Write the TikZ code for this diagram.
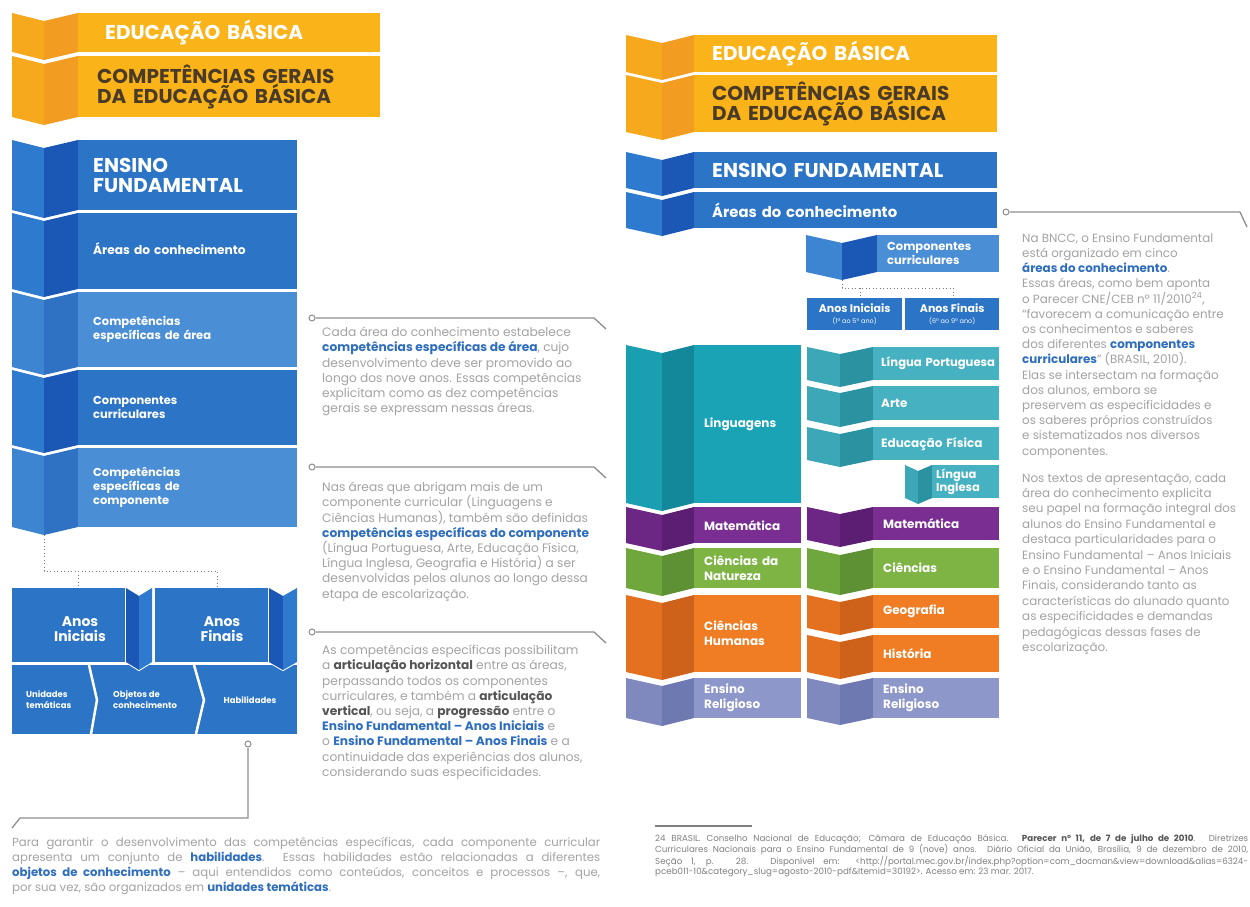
\documentclass[tikz,border=0pt]{standalone}
\usepackage{fontspec}
\setmainfont{Poppins}
\usetikzlibrary{calc}
\definecolor{ylwL}{HTML}{F7A91E}
\definecolor{ylwF}{HTML}{F29D21}
\definecolor{ylwM}{HTML}{FAB41A}
\definecolor{brn}{HTML}{4A3A28}
\definecolor{bluM}{HTML}{2C74C6}
\definecolor{bluF}{HTML}{1B57B4}
\definecolor{bluL}{HTML}{2D7ACE}
\definecolor{lbM}{HTML}{4A8ED6}
\definecolor{lbF}{HTML}{2F72C3}
\definecolor{lbL}{HTML}{3D85D0}
\definecolor{tealM}{HTML}{19A3B5}
\definecolor{tealF}{HTML}{12889A}
\definecolor{tealL}{HTML}{1A9FB1}
\definecolor{lteaM}{HTML}{45B1C1}
\definecolor{lteaF}{HTML}{2B92A2}
\definecolor{lteaL}{HTML}{3BA7B7}
\definecolor{purM}{HTML}{7A2E92}
\definecolor{purF}{HTML}{5B1E73}
\definecolor{purL}{HTML}{6C2785}
\definecolor{grnM}{HTML}{7DB443}
\definecolor{grnF}{HTML}{5E9034}
\definecolor{grnL}{HTML}{70A73C}
\definecolor{orgM}{HTML}{F07D23}
\definecolor{orgF}{HTML}{CF621A}
\definecolor{orgL}{HTML}{E4711F}
\definecolor{lavM}{HTML}{8D97C9}
\definecolor{lavF}{HTML}{6E78B1}
\definecolor{lavL}{HTML}{7F89BE}
\definecolor{gtx}{HTML}{A3A3A3}
\definecolor{bltx}{HTML}{2F6EBF}
\definecolor{dktx}{HTML}{555555}
\definecolor{cline}{HTML}{8E8E8E}
\definecolor{dotgray}{HTML}{777777}
\newcommand\bb[1]{\textbf{\color{bltx}#1}}
\newcommand\bd[1]{\textbf{\color{dktx}#1}}
% left fold: x0 xf xm ytop ybot colL colF depth
\newcommand\foldL[8]{%
 \fill[#6] (#1,#4) -- (#2,#4+#8) -- (#2,#5+#8) -- (#1,#5) -- cycle;
 \fill[#7] (#2,#4+#8) -- (#3,#4) -- (#3,#5) -- (#2,#5+#8) -- cycle;}
% right fold: xm xf x1 ytop ybot colF colL depth
\newcommand\foldR[8]{%
 \filldraw[white, line width=2pt] (#1,#4) -- (#2,#4+#8) -- (#3,#4) -- (#3,#5) -- (#2,#5+#8) -- (#1,#5) -- cycle;
 \fill[#6] (#1,#4) -- (#2,#4+#8) -- (#2,#5+#8) -- (#1,#5) -- cycle;
 \fill[#7] (#2,#4+#8) -- (#3,#4) -- (#3,#5) -- (#2,#5+#8) -- cycle;}
% box: name x y w h pad fill font text
\newcommand\bx[9]{\pgfmathsetmacro\tw{#4-2*#6}%
 \node[band, fill=#7, minimum height=#5pt, text width=\tw pt, inner xsep=#6pt, font=#8] (#1) at (#2,#3) {#9};}
\newcommand\fH{\fontsize{20}{20.5}\selectfont\bfseries}
\newcommand\fA{\fontsize{12.2}{15}\selectfont\bfseries}
\newcommand\fS{\fontsize{11.5}{14}\selectfont\bfseries}
\newcommand\fR{\fontsize{12}{15}\selectfont\bfseries}
\newcommand\fT{\fontsize{8.5}{11}\selectfont\bfseries}
\tikzset{
 band/.style={anchor=north west, inner ysep=0pt, text=white, align=left},
 circ/.style={circle, draw=cline, line width=1pt, fill=white, inner sep=0pt, minimum size=6pt},
 cl/.style={draw=cline, line width=1.3pt},
 dotc/.style={draw=dotgray, line width=1pt, dash pattern=on 1pt off 2.5pt},
 para/.style={anchor=north west, inner sep=0pt, align=left, text=gtx, font=\fontsize{12.2}{15.2}\selectfont},
 lab/.style={text=white, inner sep=0pt, align=center},
}
\begin{document}
\begin{tikzpicture}[x=1pt,y=-1pt]
\fill[white] (0,0) rectangle (1250,907);
\useasboundingbox (0,0) rectangle (1250,907);

% ================= LEFT COLUMN =================
\foldL{12}{44}{78}{13}{52}{ylwL}{ylwF}{8}
\foldL{12}{44}{78}{56}{117}{ylwL}{ylwF}{8}
\bx{lEB}{78}{13}{302}{39}{27}{ylwM}{\fH}{EDUCAÇÃO BÁSICA}
\bx{lCG}{78}{56}{302}{61}{19}{ylwM}{\fH}{\color{brn}COMPETÊNCIAS GERAIS\\\color{brn}DA EDUCAÇÃO BÁSICA}

\foldL{12}{44}{78}{140}{210}{bluL}{bluF}{8}
\foldL{12}{44}{78}{213}{289}{bluL}{bluF}{8}
\foldL{12}{44}{78}{292}{367}{lbL}{lbF}{8}
\foldL{12}{44}{78}{370}{445}{bluL}{bluF}{8}
\foldL{12}{44}{78}{448}{527}{lbL}{lbF}{8}
\bx{lEF}{78}{140}{219}{70}{15}{bluM}{\fH}{ENSINO\\FUNDAMENTAL}
\bx{lAC}{78}{213}{219}{70}{15}{bluM}{\fA}{Áreas do conhecimento}
\bx{lCA}{78}{292}{219}{75}{15}{lbM}{\fS}{Competências\\específicas de área}
\bx{lCC}{78}{370}{219}{75}{15}{bluM}{\fS}{Componentes\\curriculares}
\bx{lCE}{78}{448}{219}{79}{15}{lbM}{\fS}{Competências\\específicas de\\componente}
\fill[bluM] (78,283) rectangle (297,289);

% dotted connector
\coordinate (ld0) at (44,535);
\coordinate (ldL) at (78,571);
\coordinate (ldR) at (217,571);
\coordinate (ldLb) at (78,588);
\coordinate (ldRb) at (217,588);
\draw[dotc] (ld0) |- (ldR) -- (ldRb);
\draw[dotc] (ldL) -- (ldLb);

% bottom row
\fill[bluM] (12,665) rectangle (297,734);
\draw[white, line width=2.5pt] (89,665) -- (97,700) -- (91,734);
\draw[white, line width=2.5pt] (194,665) -- (204,700) -- (196,734);
\node[lab, anchor=west, align=left, font=\fT] (lUT) at (26,700) {Unidades\\temáticas};
\node[lab, anchor=west, align=left, font=\fT] (lOC) at (113,700) {Objetos de\\conhecimento};
\node[lab, font=\fT] (lHB) at (250,700) {Habilidades};

% Anos boxes
\fill[bluM] (12,588) rectangle (126,662);
\foldR{126}{139}{152}{588}{662}{bluF}{bluL}{8}
\fill[bluM] (155,588) rectangle (269,662);
\foldR{269}{283}{297}{588}{662}{bluF}{bluL}{8}
\node[lab, font=\fontsize{14}{15}\selectfont\bfseries] (lAI) at (80,629) {Anos\\Iniciais};
\node[lab, font=\fontsize{14}{15}\selectfont\bfseries] (lAF) at (222,629) {Anos\\Finais};

% callouts left
\node[circ] (c1) at (312,318) {};
\coordinate (c1a) at (594,318); \coordinate (c1b) at (606,329);
\draw[cl] (c1) -- (c1a) -- (c1b);
\node[circ] (c2) at (312,467) {};
\coordinate (c2a) at (594,467); \coordinate (c2b) at (606,478);
\draw[cl] (c2) -- (c2a) -- (c2b);
\node[circ] (c3) at (312,632) {};
\coordinate (c3a) at (594,632); \coordinate (c3b) at (606,643);
\draw[cl] (c3) -- (c3a) -- (c3b);
\node[circ] (c4) at (248,744) {};
\coordinate (c4a) at (248,818); \coordinate (c4b) at (20,818); \coordinate (c4c) at (12,828);
\draw[cl] (c4) -- (c4a) -- (c4b) -- (c4c);

\node[para] (p1) at (322,327) {Cada área do conhecimento estabelece\\
\bb{competências específicas de área}, cujo\\
desenvolvimento deve ser promovido ao\\
longo dos nove anos. Essas competências\\
explicitam como as dez competências\\
gerais se expressam nessas áreas.};

\node[para] (p2) at (322,482) {Nas áreas que abrigam mais de um\\
componente curricular (Linguagens e\\
Ciências Humanas), também são definidas\\
\bb{competências específicas do componente}\\
(Língua Portuguesa, Arte, Educação Física,\\
Língua Inglesa, Geografia e História) a ser\\
desenvolvidas pelos alunos ao longo dessa\\
etapa de escolarização.};

\node[para] (p3) at (322,645) {As competências específicas possibilitam\\
a \bd{articulação horizontal} entre as áreas,\\
perpassando todos os componentes\\
curriculares, e também a \bd{articulação}\\
\bd{vertical}, ou seja, a \bd{progressão} entre o\\
\bb{Ensino Fundamental – Anos Iniciais} e\\
o \bb{Ensino Fundamental – Anos Finais} e a\\
continuidade das experiências dos alunos,\\
considerando suas especificidades.};

\node[para, font=\fontsize{11.7}{15}\selectfont] (p4) at (12,837) {\makebox[588pt][s]{Para garantir o desenvolvimento das competências específicas, cada componente curricular}\\
\makebox[588pt][s]{apresenta um conjunto de \bb{habilidades}. Essas habilidades estão relacionadas a diferentes}\\
\makebox[588pt][s]{\bb{objetos de conhecimento} – aqui entendidos como conteúdos, conceitos e processos –, que,}\\
por sua vez, são organizados em \bb{unidades temáticas}.};

% ================= RIGHT COLUMN =================
\foldL{626}{662}{694}{35}{72}{ylwL}{ylwF}{8}
\foldL{626}{662}{694}{75}{132}{ylwL}{ylwF}{8}
\bx{rEB}{694}{35}{303}{37}{18}{ylwM}{\fH}{EDUCAÇÃO BÁSICA}
\bx{rCG}{694}{75}{303}{57}{18}{ylwM}{\fontsize{20}{19}\selectfont\bfseries}{\color{brn}COMPETÊNCIAS GERAIS\\\color{brn}DA EDUCAÇÃO BÁSICA}
\foldL{626}{662}{694}{152}{188}{bluL}{bluF}{8}
\foldL{626}{662}{694}{192}{228}{bluL}{bluF}{8}
\bx{rEF}{694}{152}{303}{36}{18}{bluM}{\fH}{ENSINO FUNDAMENTAL}
\bx{rAC}{694}{192}{303}{36}{18}{bluM}{\fontsize{14.8}{16}\selectfont\bfseries}{Áreas do conhecimento}

\foldL{806}{842}{877}{235}{272}{lbL}{bluF}{8}
\bx{rCC}{877}{235}{122}{37}{10}{lbM}{\fS}{Componentes\\curriculares}

\coordinate (rd0) at (842,280);
\coordinate (rdL) at (860,288);
\coordinate (rdR) at (953,288);
\coordinate (rdLb) at (860,298);
\coordinate (rdRb) at (953,298);
\draw[dotc] (rd0) |- (rdR) -- (rdRb);
\draw[dotc] (rdL) -- (rdLb);

\node[anchor=north west, fill=bluM, minimum width=95pt, minimum height=32pt, inner sep=0pt, text=white, align=center] (rAI) at (807,298) {{\fontsize{11}{12}\selectfont\bfseries Anos Iniciais}\\[-1pt]{\fontsize{6.5}{7}\selectfont (1º ao 5º ano)}};
\node[anchor=north west, fill=bluM, minimum width=94pt, minimum height=32pt, inner sep=0pt, text=white, align=center] (rAF) at (905,298) {{\fontsize{11}{12}\selectfont\bfseries Anos Finais}\\[-1pt]{\fontsize{6.5}{7}\selectfont (6º ao 9º ano)}};

% areas
\foldL{626}{662}{694}{345}{503}{tealL}{tealF}{8}
\foldL{626}{662}{694}{507}{543}{purL}{purF}{8}
\foldL{626}{662}{694}{548}{588}{grnL}{grnF}{8}
\foldL{626}{662}{694}{595}{672}{orgL}{orgF}{8}
\foldL{626}{662}{694}{678}{718}{lavL}{lavF}{8}
\bx{rLG}{694}{345}{107}{158}{10}{tealM}{\fR}{Linguagens}
\bx{rMA}{694}{507}{107}{36}{10}{purM}{\fR}{Matemática}
\bx{rCN}{694}{548}{107}{40}{10}{grnM}{\fR}{Ciências da\\Natureza}
\bx{rCH}{694}{595}{107}{77}{10}{orgM}{\fR}{Ciências\\Humanas}
\bx{rER}{694}{678}{107}{40}{10}{lavM}{\fR}{Ensino\\Religioso}

% components
\foldL{807}{840}{873}{347}{380}{lteaL}{lteaF}{7}
\foldL{807}{840}{873}{386}{420}{lteaL}{lteaF}{7}
\foldL{807}{840}{873}{427}{460}{lteaL}{lteaF}{7}
\foldL{905}{918}{932}{465}{498}{lteaL}{lteaF}{6}
\foldL{807}{840}{873}{507}{540}{purL}{purF}{7}
\foldL{807}{840}{873}{548}{588}{grnL}{grnF}{7}
\foldL{807}{840}{873}{595}{628}{orgL}{orgF}{7}
\foldL{807}{840}{873}{635}{672}{orgL}{orgF}{7}
\foldL{807}{840}{873}{678}{718}{lavL}{lavF}{7}
\bx{rLP}{873}{347}{126}{33}{8}{lteaM}{\fontsize{11.6}{15}\selectfont\bfseries}{\mbox{Língua Portuguesa}}
\bx{rAR}{873}{386}{126}{34}{8}{lteaM}{\fR}{Arte}
\bx{rEFi}{873}{427}{126}{33}{8}{lteaM}{\fR}{Educação Física}
\bx{rLI}{932}{465}{67}{33}{4}{lteaM}{\fontsize{11.5}{12.5}\selectfont\bfseries}{Língua\\Inglesa}
\bx{rMAc}{873}{507}{126}{33}{10}{purM}{\fR}{Matemática}
\bx{rCI}{873}{548}{126}{40}{10}{grnM}{\fR}{Ciências}
\bx{rGE}{873}{595}{126}{33}{10}{orgM}{\fR}{Geografia}
\bx{rHI}{873}{635}{126}{37}{10}{orgM}{\fR}{História}
\bx{rERc}{873}{678}{126}{40}{10}{lavM}{\fR}{Ensino\\Religioso}

% right callout
\node[circ] (c5) at (1006,212) {};
\coordinate (c5a) at (1240,212); \coordinate (c5b) at (1247,227);
\draw[cl] (c5) -- (c5a) -- (c5b);

\node[para, font=\fontsize{11.9}{15.2}\selectfont] (p5) at (1022,233) {Na BNCC, o Ensino Fundamental\\
está organizado em cinco\\
\bb{áreas do conhecimento}.\\
Essas áreas, como bem aponta\\
o Parecer CNE/CEB nº 11/2010\textsuperscript{24},\\
“favorecem a comunicação entre\\
os conhecimentos e saberes\\
dos diferentes \bb{componentes}\\
\bb{curriculares}” (BRASIL, 2010).\\
Elas se intersectam na formação\\
dos alunos, embora se\\
preservem as especificidades e\\
os saberes próprios construídos\\
e sistematizados nos diversos\\
componentes.};

\node[para, font=\fontsize{11.9}{15.4}\selectfont] (p6) at (1022,473) {Nos textos de apresentação, cada\\
área do conhecimento explicita\\
seu papel na formação integral dos\\
alunos do Ensino Fundamental e\\
destaca particularidades para o\\
Ensino Fundamental – Anos Iniciais\\
e o Ensino Fundamental – Anos\\
Finais, considerando tanto as\\
características do alunado quanto\\
as especificidades e demandas\\
pedagógicas dessas fases de\\
escolarização.};

% footnote
\coordinate (fnA) at (655,826); \coordinate (fnB) at (752,826);
\draw[gray, line width=1.5pt] (fnA) -- (fnB);
\node[para, text=gray, font=\fontsize{8.7}{10}\selectfont] (fn) at (655,834) {\makebox[593pt][s]{24 BRASIL. Conselho Nacional de Educação; Câmara de Educação Básica. \textbf{\color{dktx}Parecer nº 11, de 7 de julho de 2010}. Diretrizes}\\
\makebox[593pt][s]{Curriculares Nacionais para o Ensino Fundamental de 9 (nove) anos. Diário Oficial da União, Brasília, 9 de dezembro de 2010,}\\
\makebox[593pt][s]{Seção 1, p. 28. Disponível em: <http://portal.mec.gov.br/index.php?option=com\_docman\&view=download\&alias=6324-}\\
pceb011-10\&category\_slug=agosto-2010-pdf\&Itemid=30192>. Acesso em: 23 mar. 2017.};
\end{tikzpicture}
\end{document}
